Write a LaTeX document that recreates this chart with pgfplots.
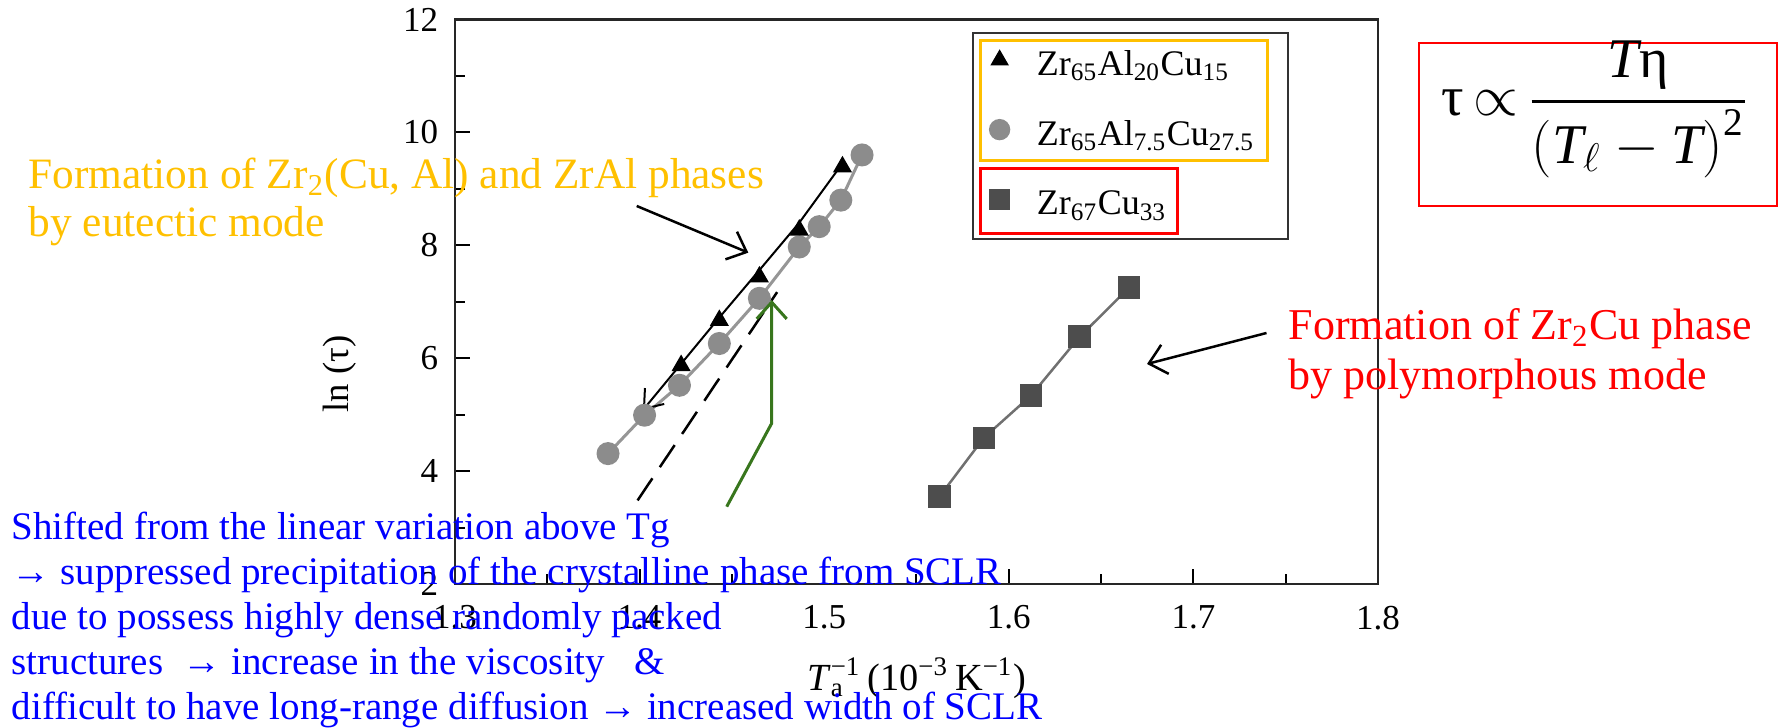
\documentclass[border=0pt]{standalone}
\usepackage{fontspec}
\setmainfont{Liberation Serif}
\usepackage{amsmath}
\usepackage{pgfplots}
\usepackage{pgfplotstable}
\pgfplotsset{compat=1.18}
\usetikzlibrary{arrows.meta}

\definecolor{circGray}{RGB}{140,140,140}
\definecolor{circLine}{RGB}{150,150,150}
\definecolor{sqGray}{RGB}{77,77,77}
\definecolor{sqLine}{RGB}{112,112,112}
\definecolor{noteOrange}{RGB}{255,192,0}
\definecolor{noteBlue}{RGB}{0,0,255}
\definecolor{noteRed}{RGB}{255,0,0}
\definecolor{noteGreen}{RGB}{56,118,29}

% Zr65Al20Cu15 (triangles)
\pgfplotstableread{
x y
1.4225 5.87
1.4432 6.67
1.4649 7.44
1.4865 8.27
1.5099 9.39
}\tableAlTwenty

% fitted guide line through the triangles, arrow at the low end
\pgfplotstableread{
x y
1.4018 5.08
1.4225 5.90
1.4432 6.72
1.4649 7.56
1.4865 8.40
1.5099 9.45
}\tableAlTwentyLine

% Zr65Al7.5Cu27.5 (circles)
\pgfplotstableread{
x y
1.3829 4.31
1.4027 4.99
1.4216 5.52
1.4432 6.26
1.4649 7.06
1.4865 7.97
1.4973 8.33
1.5090 8.80
1.5205 9.60
}\tableAlSeven

% Zr67Cu33 (squares)
\pgfplotstableread{
x y
1.5625 3.55
1.5865 4.59
1.6121 5.34
1.6384 6.38
1.6652 7.25
}\tableZrCu

% linear extrapolation (dashed)
\pgfplotstableread{
x y
1.3989 3.48
1.4745 7.17
}\tableExtrap

\begin{document}
\begin{tikzpicture}
\path[use as bounding box] (0pt,0pt) rectangle (533.7pt,218.4pt);
\begin{axis}[
  at={(136.5pt,43.2pt)}, anchor=south west,
  scale only axis, width=276.9pt, height=169.35pt,
  xmin=1.3, xmax=1.8, ymin=2, ymax=12,
  xtick={1.3,1.4,1.5,1.6,1.7,1.8},
  ytick={2,4,6,8,10,12},
  minor xtick={1.35,1.45,1.55,1.65,1.75},
  minor ytick={3,5,7,9,11},
  tick align=inside, xtick pos=bottom, ytick pos=left,
  major tick length=4.5pt, minor tick length=3pt,
  tick style={black, line width=0.6pt},
  axis line style={black!85, line width=0.75pt},
  /pgf/number format/assume math mode=true,
  x tick label style={/pgf/number format/.cd, fixed, fixed zerofill, precision=1, /tikz/.cd, yshift=-3pt},
  y tick label style={xshift=-1.5pt},
  ticklabel style={font=\fontsize{10.5}{12}\selectfont},
  xlabel={\textit{T}\rlap{\textsubscript{a}}\textsuperscript{−1}\,(10\textsuperscript{−3}\,K\textsuperscript{−1})},
  xlabel style={at={(axis description cs:0.5,-0.1665)}, anchor=center, font=\fontsize{11.5}{13}\selectfont},
  ylabel={ln (τ)},
  ylabel style={at={(axis description cs:-0.1246,0.372)}, anchor=center, font=\fontsize{11}{13}\selectfont},
  legend style={at={(axis description cs:0.5778,0.946)}, anchor=north west,
    draw=none, fill=none, inner sep=0pt, row sep=10.75pt,
    font=\fontsize{10.8}{12}\selectfont,
    nodes={inner sep=0pt, text height=7pt, text depth=2.5pt},
    /tikz/every odd column/.append style={column sep=8pt}},
  legend cell align=left,
  legend image code/.code={\path (-3pt,0pt) (3pt,0pt); \draw[#1] plot coordinates {(0pt,2.4pt)};},
]
\addplot[sqLine, line width=0.75pt, mark=square*, mark size=3pt,
  mark options={fill=sqGray, draw=sqGray, solid}, forget plot] table {\tableZrCu};
\addplot[circLine, line width=0.9pt, mark=*, mark size=3pt,
  mark options={fill=circGray, draw=circGray, solid}, forget plot] table {\tableAlSeven};
\addplot[black, line width=0.75pt, dash pattern=on 8pt off 4pt, forget plot] table {\tableExtrap};
\addplot[black, line width=0.6pt, arrows={Straight Barb[length=5pt,width=7.5pt]-}, forget plot] table {\tableAlTwentyLine};
\addplot[only marks, mark=triangle*, mark size=2.9pt, black, forget plot] table {\tableAlTwenty};

\addlegendimage{only marks, mark=triangle*, mark size=2.8pt, black}
\addlegendentry{Zr\textsubscript{65}Al\textsubscript{20}Cu\textsubscript{15}}
\addlegendimage{only marks, mark=*, mark size=3pt, fill=circGray, draw=circGray}
\addlegendentry{Zr\textsubscript{65}Al\textsubscript{7.5}Cu\textsubscript{27.5}}
\addlegendimage{only marks, mark=square*, mark size=3pt, fill=sqGray, draw=sqGray}
\addlegendentry{Zr\textsubscript{67}Cu\textsubscript{33}}
\end{axis}

% annotations, coordinates in pixels measured from the top left corner
\begin{scope}[shift={(0pt,218.4pt)}, x=0.3pt, y=-0.3pt]
  % legend frames
  \draw[black!80, line width=0.6pt] (973.3,33.3) rectangle (1288.3,239.3);
  \draw[noteOrange, line width=0.9pt] (980.7,41) rectangle (1267.7,160.7);
  \draw[noteRed, line width=0.9pt] (980.7,168.3) rectangle (1177.7,233.3);

  % relaxation-time relation
  \draw[noteRed, line width=0.6pt] (1419,43) rectangle (1777,206);
  \node[anchor=base west, inner sep=0pt] at (1441,116)
    {\fontsize{16.8}{20}\selectfont τ\,$\propto$\,$\dfrac{\textit{T}\text{η}}{\left(\textit{T}_{\ell}-\textit{T}\right)^{\text{2}}}$};

  % eutectic crystallization note
  \begin{scope}[font=\fontsize{13}{15}\selectfont, noteOrange]
    \node[anchor=base west, inner sep=0pt] at (28,189) {Formation of Zr\textsubscript{2}(Cu, Al) and ZrAl phases};
    \node[anchor=base west, inner sep=0pt] at (28,237) {by eutectic mode};
  \end{scope}
  \draw[black, line width=0.75pt, -{Straight Barb[length=5pt,width=9pt]}] (636.7,206) -- (748.3,252.7);

  % polymorphous crystallization note
  \begin{scope}[font=\fontsize{13.2}{15}\selectfont, noteRed]
    \node[anchor=base west, inner sep=0pt] at (1288,340) {Formation of Zr\textsubscript{2}Cu phase};
    \node[anchor=base west, inner sep=0pt] at (1288,390) {by polymorphous mode};
  \end{scope}
  \draw[black, line width=0.75pt, -{Straight Barb[length=5pt,width=9pt]}] (1266.5,333) -- (1147,364);

  % deviation from the linear variation
  \draw[noteGreen, line width=0.9pt, -{Straight Barb[length=5pt,width=9pt]}] (726.7,506.7) -- (771.7,423.3) -- (771.7,300);
  \begin{scope}[font=\fontsize{11.7}{13.5}\selectfont, noteBlue]
    \node[anchor=base west, inner sep=0pt] at (11,540) {Shifted from the linear variation above Tg};
    \node[anchor=base west, inner sep=0pt] at (11,585) {→ suppressed precipitation of the crystalline phase from SCLR};
    \node[anchor=base west, inner sep=0pt] at (11,630) {due to possess highly dense randomly packed};
    \node[anchor=base west, inner sep=0pt] at (11,675) {structures \ →\  increase in the viscosity \ \ \&};
    \node[anchor=base west, inner sep=0pt] at (11,720) {difficult to have long-range diffusion → increased width of SCLR};
  \end{scope}
\end{scope}
\end{tikzpicture}
\end{document}
